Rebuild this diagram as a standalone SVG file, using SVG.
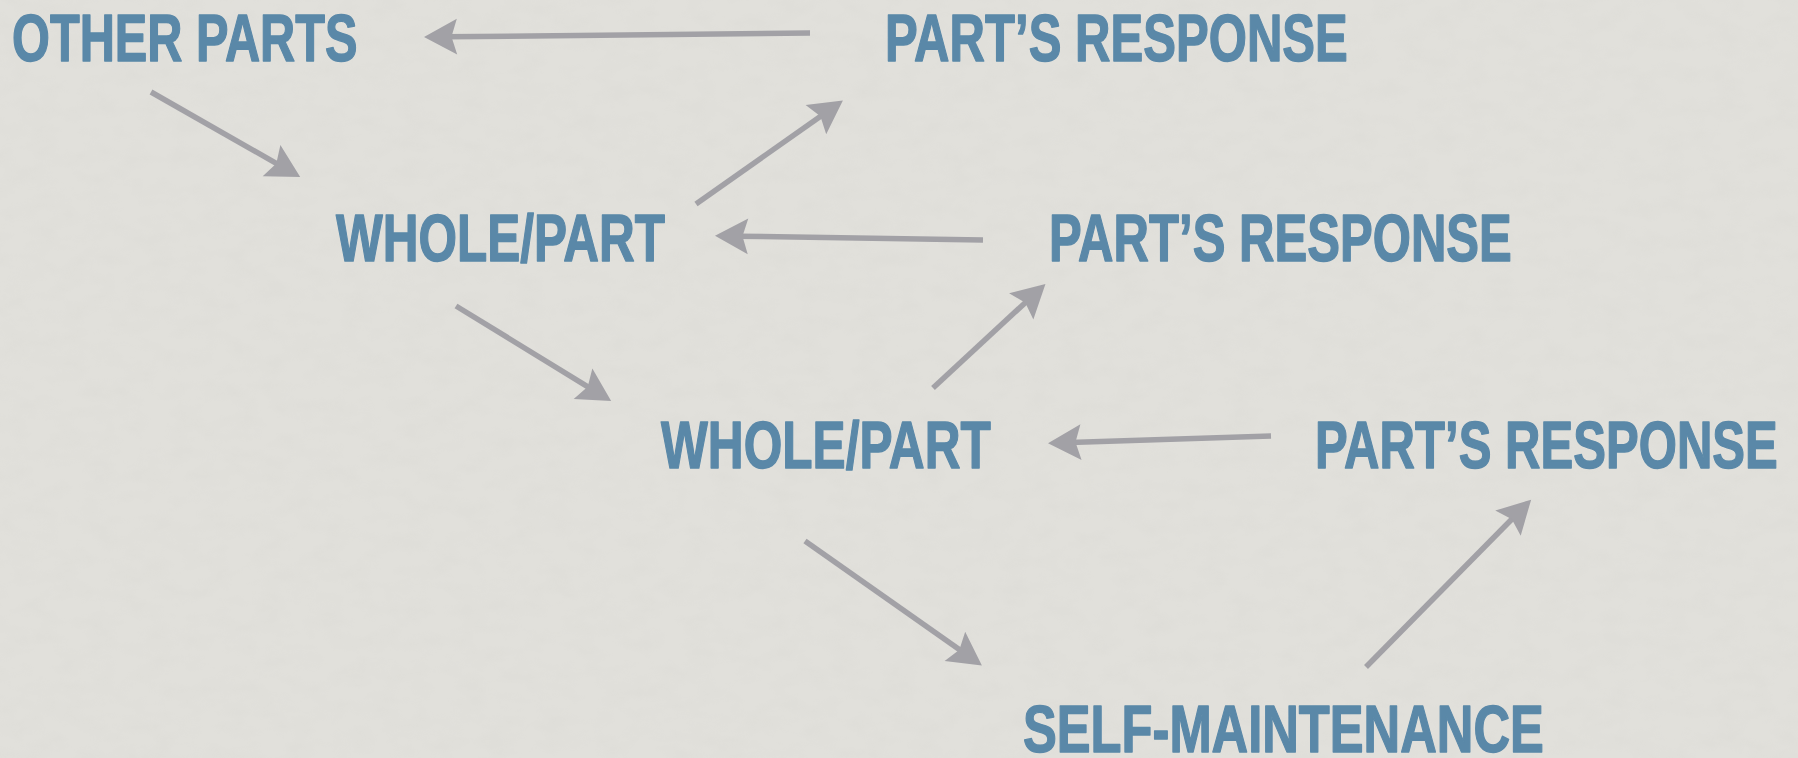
<svg xmlns="http://www.w3.org/2000/svg" width="1798" height="758" viewBox="0 0 1798 758">
  <style>
    .label { font-family: "Liberation Sans", Arial, sans-serif; font-weight: bold; font-size: 66px; fill: #5a88a8; stroke: #5a88a8; stroke-width: 1.4; stroke-linejoin: round; }
    .link { stroke: #a2a1a6; stroke-width: 5.5; fill: none; marker-end: url(#head); }
  </style>
  <defs>
    <marker id="head" markerUnits="userSpaceOnUse" markerWidth="44" markerHeight="44" viewBox="-12 -16 32 32" refX="0" refY="0" orient="auto">
      <path d="M16,0 L-8,-13 L-4,0 L-8,13 Z" fill="#a2a1a6"/>
    </marker>
    <filter id="paper" x="0" y="0" width="100%" height="100%">
      <feTurbulence type="fractalNoise" baseFrequency="0.035 0.06" numOctaves="3" seed="7" result="n"/>
      <feColorMatrix in="n" type="matrix" values="0 0 0 0 0.55  0 0 0 0 0.55  0 0 0 0 0.52  0 0 0 0.9 -0.35"/>
    </filter>
  </defs>

  <!-- paper background -->
  <rect width="1798" height="758" fill="#e1e0db"/>
  <rect width="1798" height="758" filter="url(#paper)" opacity="0.18"/>

  <!-- connectors -->
  <g id="connectors">
    <line class="link" x1="810" y1="33" x2="446" y2="36.8"/>
    <line class="link" x1="151" y1="92" x2="281.1" y2="166.1"/>
    <line class="link" x1="696" y1="204" x2="824.9" y2="113.2"/>
    <line class="link" x1="983" y1="240" x2="737" y2="236.2"/>
    <line class="link" x1="456" y1="306" x2="592.4" y2="389.6"/>
    <line class="link" x1="933" y1="388" x2="1029.3" y2="298.9"/>
    <line class="link" x1="1271" y1="436" x2="1070" y2="442.5"/>
    <line class="link" x1="805" y1="541" x2="963.9" y2="652.8"/>
    <line class="link" x1="1366" y1="667" x2="1515.7" y2="515.3"/>
  </g>

  <!-- nodes: condensed bold caps -->
  <g id="other-parts">
    <text class="label" transform="translate(12,61) scale(0.738,1)">OTHER PARTS</text>
  </g>
  <g id="response-1">
    <text class="label" transform="translate(885,61) scale(0.744,1)">PART’S RESPONSE</text>
  </g>
  <g id="whole-part-1">
    <text class="label" transform="translate(336,261) scale(0.75,1)">WHOLE/PART</text>
  </g>
  <g id="response-2">
    <text class="label" transform="translate(1049,261) scale(0.744,1)">PART’S RESPONSE</text>
  </g>
  <g id="whole-part-2">
    <text class="label" transform="translate(661,468) scale(0.752,1)">WHOLE/PART</text>
  </g>
  <g id="response-3">
    <text class="label" transform="translate(1315,468) scale(0.744,1)">PART’S RESPONSE</text>
  </g>
  <g id="self-maintenance">
    <text class="label" transform="translate(1023,752) scale(0.768,1)">SELF-MAINTENANCE</text>
  </g>
</svg>
